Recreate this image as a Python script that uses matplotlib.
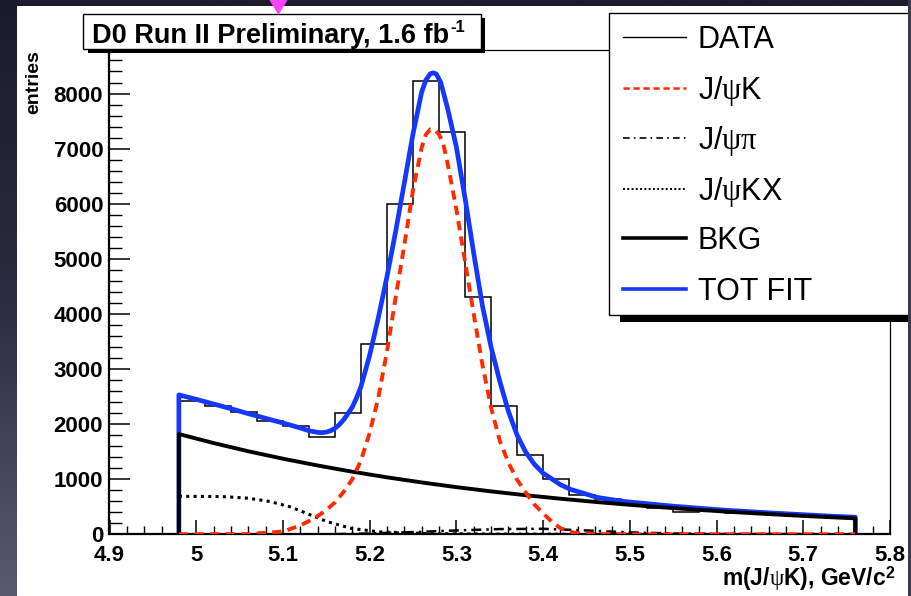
import matplotlib
matplotlib.use("Agg")
import matplotlib.pyplot as plt
import numpy as np
from matplotlib.patches import Rectangle, Polygon
from matplotlib.lines import Line2D
from matplotlib.ticker import MultipleLocator

# histogram of the data (bin edges in GeV/c^2, counts per bin)
BIN_EDGES = [4.98, 5.01, 5.04, 5.07, 5.10, 5.13, 5.16, 5.19, 5.22, 5.25, 5.28,
             5.31, 5.34, 5.37, 5.40, 5.43, 5.46, 5.49, 5.52, 5.55, 5.58, 5.61,
             5.64, 5.67, 5.70, 5.73, 5.76]
DATA_COUNTS = [2425, 2335, 2214, 2065, 1960, 1770, 2210, 3450, 5995, 8225, 7300,
               4315, 2328, 1445, 1010, 713, 635, 544, 483, 410, 441, 392, 368,
               345, 327, 309]

# fit components
TOT_X = [4.98, 5.00, 5.02, 5.04, 5.06, 5.08, 5.10, 5.12, 5.13, 5.14, 5.145,
         5.15, 5.155, 5.16, 5.165, 5.17, 5.175, 5.18, 5.185, 5.19, 5.20, 5.21,
         5.22, 5.23, 5.24, 5.25, 5.26, 5.265, 5.27, 5.2735, 5.277, 5.282, 5.29,
         5.30, 5.31, 5.32, 5.33, 5.34, 5.35, 5.36, 5.37, 5.38, 5.39, 5.40, 5.42,
         5.4313, 5.462, 5.4907, 5.55, 5.6075, 5.665, 5.731, 5.76]
TOT_Y = [2530, 2450, 2365, 2280, 2190, 2105, 2020, 1930, 1880, 1850, 1845,
         1855, 1880, 1925, 1990, 2080, 2190, 2310, 2480, 2680, 3250, 3930,
         4680, 5500, 6380, 7270, 8030, 8250, 8360, 8375, 8350, 8200, 7720,
         7030, 6100, 5100, 4150, 3400, 2780, 2230, 1800, 1490, 1270, 1110, 900,
         817, 671, 600, 510, 440, 385, 330, 310]

JPSIK_X = [4.98, 5.06, 5.10, 5.12, 5.13, 5.14, 5.15, 5.16, 5.17, 5.18, 5.19,
           5.20, 5.21, 5.22, 5.23, 5.24, 5.25, 5.26, 5.265, 5.27, 5.275, 5.28,
           5.285, 5.29, 5.30, 5.31, 5.32, 5.33, 5.34, 5.35, 5.36, 5.37, 5.38,
           5.39, 5.40, 5.41, 5.42, 5.435, 5.46, 5.50, 5.76]
JPSIK_Y = [0, 5, 50, 160, 240, 330, 440, 580, 770, 1000, 1340,
           1840, 2480, 3320, 4300, 5250, 6250, 7020, 7260, 7350, 7340, 7260,
           7080, 6720, 5900, 4950, 4000, 3080, 2300, 1700, 1300, 990, 760,
           540, 380, 230, 110, 30, 5, 0, 0]

JPSIPI_X = [4.98, 5.15, 5.20, 5.25, 5.30, 5.35, 5.40, 5.45, 5.50, 5.55, 5.60, 5.76]
JPSIPI_Y = [0, 0, 15, 40, 70, 95, 100, 70, 35, 15, 5, 0]

JPSIKX_X = [4.98, 5.03, 5.06, 5.085, 5.108, 5.132, 5.151, 5.178, 5.21, 5.27,
            5.35, 5.45, 5.76]
JPSIKX_Y = [690, 685, 655, 595, 500, 350, 230, 110, 45, 12, 4, 1, 0]

BKG_X = [4.98, 5.02, 5.06, 5.10, 5.14, 5.18, 5.22, 5.26, 5.30, 5.34, 5.38,
         5.42, 5.46, 5.50, 5.54, 5.58, 5.62, 5.66, 5.70, 5.74, 5.76]
BKG_Y = [1820, 1656, 1507, 1372, 1249, 1136, 1034, 941, 856, 779, 709,
         646, 588, 535, 487, 443, 403, 367, 334, 304, 290]

X_TICKS = [4.9, 5.0, 5.1, 5.2, 5.3, 5.4, 5.5, 5.6, 5.7, 5.8]
X_TICK_LABELS = ["4.9", "5", "5.1", "5.2", "5.3", "5.4", "5.5", "5.6", "5.7", "5.8"]
Y_TICKS = [0, 1000, 2000, 3000, 4000, 5000, 6000, 7000, 8000]

LEGEND_LABELS = ["DATA", r"J/$\mathrm{\psi}$K", r"J/$\mathrm{\psi\pi}$",
                 r"J/$\mathrm{\psi}$KX", "BKG", "TOT FIT"]

BLUE = "#1438ff"
RED = "#ff2a00"

W, H = 912, 596

plt.rcParams.update({
    "font.family": ["Liberation Sans", "DejaVu Sans"],
    "mathtext.fontset": "custom",
    "mathtext.rm": "Liberation Serif",
    "mathtext.it": "Liberation Serif:italic",
    "mathtext.bf": "Liberation Sans:bold",
})

fig = plt.figure(figsize=(W / 100, H / 100), dpi=100)

# slide background + white canvas
bg = fig.add_axes([0, 0, 1, 1], zorder=-10)
bg.set_xlim(0, W)
bg.set_ylim(H, 0)
bg.axis("off")
grad = np.linspace(0, 1, 256)[:, None]
bg.imshow(grad, cmap=matplotlib.colors.LinearSegmentedColormap.from_list(
    "slide", ["#1b1b2d", "#2c2c40", "#5a5a6e"]),
    extent=[0, W, H, 0], aspect="auto")
bg.add_patch(Rectangle((17, 6), 891, 600, facecolor="white", edgecolor="none"))

# main plot
ax = fig.add_axes([109.5 / W, 1 - 534.3 / H, 780.5 / W, 484.3 / H], zorder=0)
ax.set_xlim(4.9, 5.8)
ax.set_ylim(0, 8790)

ax.stairs(DATA_COUNTS, BIN_EDGES, baseline=0, color="black", lw=1.1, zorder=2)

blue_x = [TOT_X[0]] + TOT_X + [TOT_X[-1]]
blue_y = [0] + TOT_Y + [0]
ax.plot(blue_x, blue_y, color=BLUE, lw=3.4, zorder=3, solid_joinstyle="round")

ax.plot(JPSIPI_X, JPSIPI_Y, color="black", lw=1.8,
        linestyle=(0, (4, 2, 1, 2)), zorder=4)
ax.plot(JPSIKX_X, JPSIKX_Y, color="black", lw=2.2,
        linestyle=(0, (1, 1.4)), zorder=4)

bkg_x = [BKG_X[0]] + BKG_X + [BKG_X[-1]]
bkg_y = [0] + BKG_Y + [0]
ax.plot(bkg_x, bkg_y, color="black", lw=2.8, zorder=5)

ax.plot(JPSIK_X, JPSIK_Y, color=RED, lw=2.8, linestyle=(0, (2.4, 1.6)), zorder=6)

ax.set_xticks(X_TICKS)
ax.set_xticklabels(X_TICK_LABELS, fontweight="bold", fontsize=16)
ax.set_yticks(Y_TICKS)
ax.set_yticklabels([str(v) for v in Y_TICKS], fontweight="bold", fontsize=16)
ax.xaxis.set_minor_locator(MultipleLocator(0.02))
ax.yaxis.set_minor_locator(MultipleLocator(200))
ax.tick_params(axis="x", which="major", direction="in", length=10, width=1.1, pad=8)
ax.tick_params(axis="x", which="minor", direction="in", length=5.5, width=1.0)
ax.tick_params(axis="y", which="major", direction="in", length=15, width=1.1, pad=4.5)
ax.tick_params(axis="y", which="minor", direction="in", length=9, width=1.0)
for side in ("top", "right"):
    ax.spines[side].set_linewidth(0.9)
for side in ("left", "bottom"):
    ax.spines[side].set_linewidth(1.6)

ax.set_ylabel("entries", fontsize=14, fontweight="bold", loc="top")
ax.yaxis.set_label_coords(-0.086, 1.0)
ax.set_xlabel(r"m(J/$\mathrm{\psi}$K), GeV/c$^{\mathbf{2}}$", fontsize=16.5,
              fontweight="bold", loc="right")
ax.xaxis.set_label_coords(1.007, -0.062)

# overlay: title box, legend, marker
ov = fig.add_axes([0, 0, 1, 1], zorder=5)
ov.set_xlim(0, W)
ov.set_ylim(H, 0)
ov.axis("off")
ov.patch.set_alpha(0)

ov.add_patch(Rectangle((88, 18), 397, 35, facecolor="black", edgecolor="none"))
ov.add_patch(Rectangle((83, 14), 398, 35, facecolor="white", edgecolor="black", lw=1))
title = ov.text(92, 43, "D0 Run II Preliminary, 1.6 fb", fontsize=19.5,
                fontweight="bold", ha="left", va="baseline")
fig.canvas.draw()
tb = title.get_window_extent(fig.canvas.get_renderer())
tx = ov.transData.inverted().transform((tb.x1, tb.y1))[0]
ov.text(tx + 1, 32, "-1", fontsize=12, fontweight="bold", ha="left", va="baseline")

ov.add_patch(Rectangle((620, 315), 300, 7, facecolor="black", edgecolor="none"))
ov.add_patch(Rectangle((609.5, 12.5), 320, 302.5, facecolor="white",
                       edgecolor="black", lw=1))

legend_y = [37, 88, 138, 189, 238, 289]
legend_styles = [
    dict(color="black", lw=1.0),
    dict(color=RED, lw=1.8, linestyle=(0, (2.5, 1.5))),
    dict(color="black", lw=1.2, linestyle=(0, (4, 2.5, 1, 2.5))),
    dict(color="black", lw=1.4, linestyle=(0, (1, 1.2))),
    dict(color="black", lw=2.6),
    dict(color=BLUE, lw=2.6),
]
for yy, label, style in zip(legend_y, LEGEND_LABELS, legend_styles):
    ov.add_line(Line2D([623, 686], [yy, yy], **style))
    ov.text(698, yy + 11, label, fontsize=22, ha="left", va="baseline")

ov.add_patch(Polygon([(269.5, 0), (287.5, 0), (278.5, 15)], closed=True,
                     facecolor="#ff44ff", edgecolor="none"))
ov.add_patch(Rectangle((908, 0), 10, H, facecolor="#3a3a4e", edgecolor="none"))

fig.savefig("out.png", dpi=100)
